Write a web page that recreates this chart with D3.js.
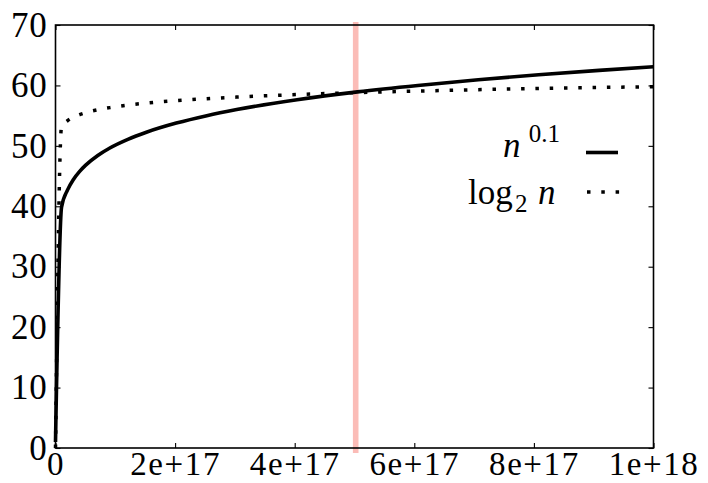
<!DOCTYPE html>
<html>
<head>
<meta charset="utf-8">
<script src="https://cdn.jsdelivr.net/npm/d3@7/dist/d3.min.js"></script>
<style>
  html, body { margin: 0; padding: 0; background: #fff; }
  svg { display: block; }
  text { font-family: "Liberation Serif", "DejaVu Serif", serif; fill: #000; }
</style>
</head>
<body>
<svg id="chart" width="708" height="483"></svg>
<script>
// Sample points of n (x axis)
const nValues = [1, 1.01e16, 2.02e16, 3.03e16, 4.04e16, 5.05e16, 7.07e16, 9.09e16,
  1.21e17, 1.52e17, 2.02e17, 2.53e17, 3.03e17, 4.04e17, 5.05e17, 6.06e17,
  7.07e17, 8.08e17, 9.09e17, 1e18];
// n^0.1 at those points
const powerValues = [1, 39.84, 42.71, 44.48, 45.78, 46.81, 48.41, 49.65,
  51.08, 52.26, 53.77, 55.0, 56.0, 57.63, 58.93, 60.0,
  60.94, 61.76, 62.49, 63.1];
// log2 n at those points
const logValues = [0, 53.17, 54.17, 54.75, 55.17, 55.49, 55.97, 56.33,
  56.75, 57.08, 57.49, 57.81, 58.07, 58.49, 58.81, 59.07,
  59.3, 59.49, 59.66, 59.79];

const xTickValues = [0, 2e17, 4e17, 6e17, 8e17, 1e18];
const xTickLabels = ["0", "2e+17", "4e+17", "6e+17", "8e+17", "1e+18"];
const yTickValues = [0, 10, 20, 30, 40, 50, 60, 70];
const yTickLabels = ["0", "10", "20", "30", "40", "50", "60", "70"];
const markerN = 5.02e17;

const svg = d3.select("#chart");
const L = 55.5, R = 653.5, T = 25, B = 448;

const x = d3.scaleLinear().domain([0, 1e18]).range([L, R]);
const y = d3.scaleLinear().domain([0, 70]).range([B, T]);

// vertical marker
svg.append("line")
  .attr("x1", x(markerN)).attr("x2", x(markerN))
  .attr("y1", T - 3).attr("y2", B + 5)
  .attr("stroke", "#fbbcb7").attr("stroke-width", 5.6);

const pts = (vals) => nValues.map((n, i) => [n, vals[i]]);
const line = d3.line().x(d => x(d[0])).y(d => y(d[1])).curve(d3.curveMonotoneX);

svg.append("path").datum(pts(logValues))
  .attr("d", line).attr("fill", "none")
  .attr("stroke", "#000").attr("stroke-width", 3.5)
  .attr("stroke-dasharray", "3.5,10.8");

svg.append("path").datum(pts(powerValues))
  .attr("d", line).attr("fill", "none")
  .attr("stroke", "#000").attr("stroke-width", 3.6)
  .attr("stroke-linejoin", "round");

// axes: ticks inward on all four sides
const fmtX = (d, i) => xTickLabels[i];
const fmtY = (d, i) => yTickLabels[i];

const axB = svg.append("g").attr("transform", `translate(0,${B})`)
  .call(d3.axisBottom(x).tickValues(xTickValues).tickFormat(fmtX).tickSizeInner(-5).tickSizeOuter(0).tickPadding(4));
const axT = svg.append("g").attr("transform", `translate(0,${T})`)
  .call(d3.axisTop(x).tickValues(xTickValues).tickFormat("").tickSizeInner(-5).tickSizeOuter(0));
const axL = svg.append("g").attr("transform", `translate(${L},0)`)
  .call(d3.axisLeft(y).tickValues(yTickValues).tickFormat(fmtY).tickSizeInner(-5).tickSizeOuter(0).tickPadding(8));
const axR = svg.append("g").attr("transform", `translate(${R},0)`)
  .call(d3.axisRight(y).tickValues(yTickValues).tickFormat("").tickSizeInner(-5).tickSizeOuter(0));

[axB, axT, axL, axR].forEach(g => {
  g.select(".domain").remove();
  g.selectAll(".tick line").attr("stroke", "#000").attr("stroke-width", 1.1);
  g.selectAll("text").attr("font-size", 35).attr("font-family", "Liberation Serif, serif").attr("fill", "#000");
});
axB.selectAll("text").attr("font-size", 33).attr("dy", "0.71em").attr("letter-spacing", 1.6);
axL.selectAll("text").attr("letter-spacing", 0.8);

// frame
svg.append("rect").attr("x", L).attr("y", T).attr("width", R - L).attr("height", B - T)
  .attr("fill", "none").attr("stroke", "#000").attr("stroke-width", 1.6);

// legend
const leg = svg.append("g");
leg.append("text").attr("x", 503).attr("y", 157).attr("font-size", 35).attr("font-style", "italic").text("n");
leg.append("text").attr("x", 560).attr("y", 142).attr("font-size", 25).attr("text-anchor", "end").text("0.1");
leg.append("line").attr("x1", 586).attr("x2", 618).attr("y1", 152.5).attr("y2", 152.5)
  .attr("stroke", "#000").attr("stroke-width", 3.6);

leg.append("text").attr("x", 468).attr("y", 204).attr("font-size", 35).text("log");
leg.append("text").attr("x", 515).attr("y", 212).attr("font-size", 25).text("2");
leg.append("text").attr("x", 538).attr("y", 204).attr("font-size", 35).attr("font-style", "italic").text("n");
leg.append("line").attr("x1", 587).attr("x2", 620).attr("y1", 192).attr("y2", 192)
  .attr("stroke", "#000").attr("stroke-width", 3.5).attr("stroke-dasharray", "3.5,10.8");
</script>
</body>
</html>
